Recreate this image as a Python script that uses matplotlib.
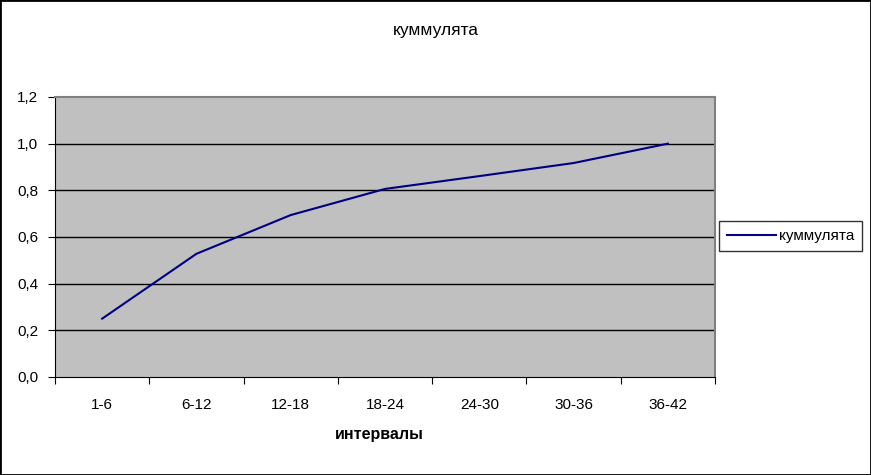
import numpy as np
import matplotlib.pyplot as plt
from matplotlib.patches import Rectangle

plt.rcParams["font.family"] = ["Liberation Sans", "DejaVu Sans"]

CATEGORIES = ["1-6", "6-12", "12-18", "18-24", "24-30", "30-36", "36-42"]
CUMULATIVE = [0.25, 0.528, 0.694, 0.806, 0.861, 0.917, 1.0]
SERIES_NAME = "куммулята"
TITLE = "куммулята"
XLABEL = "интервалы"

fig = plt.figure(figsize=(8.71, 4.75), dpi=100)
W, H = 871, 475
ax = fig.add_axes([55 / W, 1 - 377 / H, (715 - 55) / W, (377 - 97) / H])
ax.set_facecolor("#C0C0C0")

x = np.arange(len(CATEGORIES))
ax.plot(x, CUMULATIVE, color="#000080", lw=1.5, label=SERIES_NAME)

ax.set_xlim(-0.5, len(CATEGORIES) - 0.5)
ax.set_ylim(0, 1.2)
yt = np.arange(0, 1.21, 0.2)
ax.set_yticks(yt)
ax.set_yticklabels([f"{v:.1f}".replace(".", ",") for v in yt], fontsize=11)
for v in yt[1:-1]:
    ax.axhline(v, color="black", lw=1, zorder=1)

ax.set_xticks(np.arange(-0.5, len(CATEGORIES)), labels=[])
ax.set_xticks(x, labels=CATEGORIES, minor=True)
ax.tick_params(axis="x", which="major", length=5, direction="out")
ax.tick_params(axis="x", which="minor", length=0, pad=15, labelsize=11)
ax.tick_params(axis="y", length=5, direction="out", pad=7)

for s in ("left", "bottom"):
    ax.spines[s].set_color("black")
for s in ("top", "right"):
    ax.spines[s].set_color("#808080")
    ax.spines[s].set_linewidth(1.5)

fig.text(436 / W, 1 - 31 / H, TITLE, ha="center", va="center", fontsize=12.5)
fig.text(379 / W, 1 - 434 / H, XLABEL, ha="center", va="center", fontsize=11.5, fontweight="bold")

leg = ax.legend(loc="center left", bbox_to_anchor=(719 / W, 1 - 236 / H), bbox_transform=fig.transFigure,
                borderaxespad=0, frameon=True, fancybox=False, edgecolor="black", fontsize=11,
                handlelength=3.2, borderpad=0.5, handletextpad=0.2)
leg.get_frame().set_linewidth(1)

fig.patches.append(Rectangle((0, 0), 1, 1, transform=fig.transFigure, fill=False,
                             edgecolor="black", lw=2))
fig.savefig("out.png", dpi=100)
